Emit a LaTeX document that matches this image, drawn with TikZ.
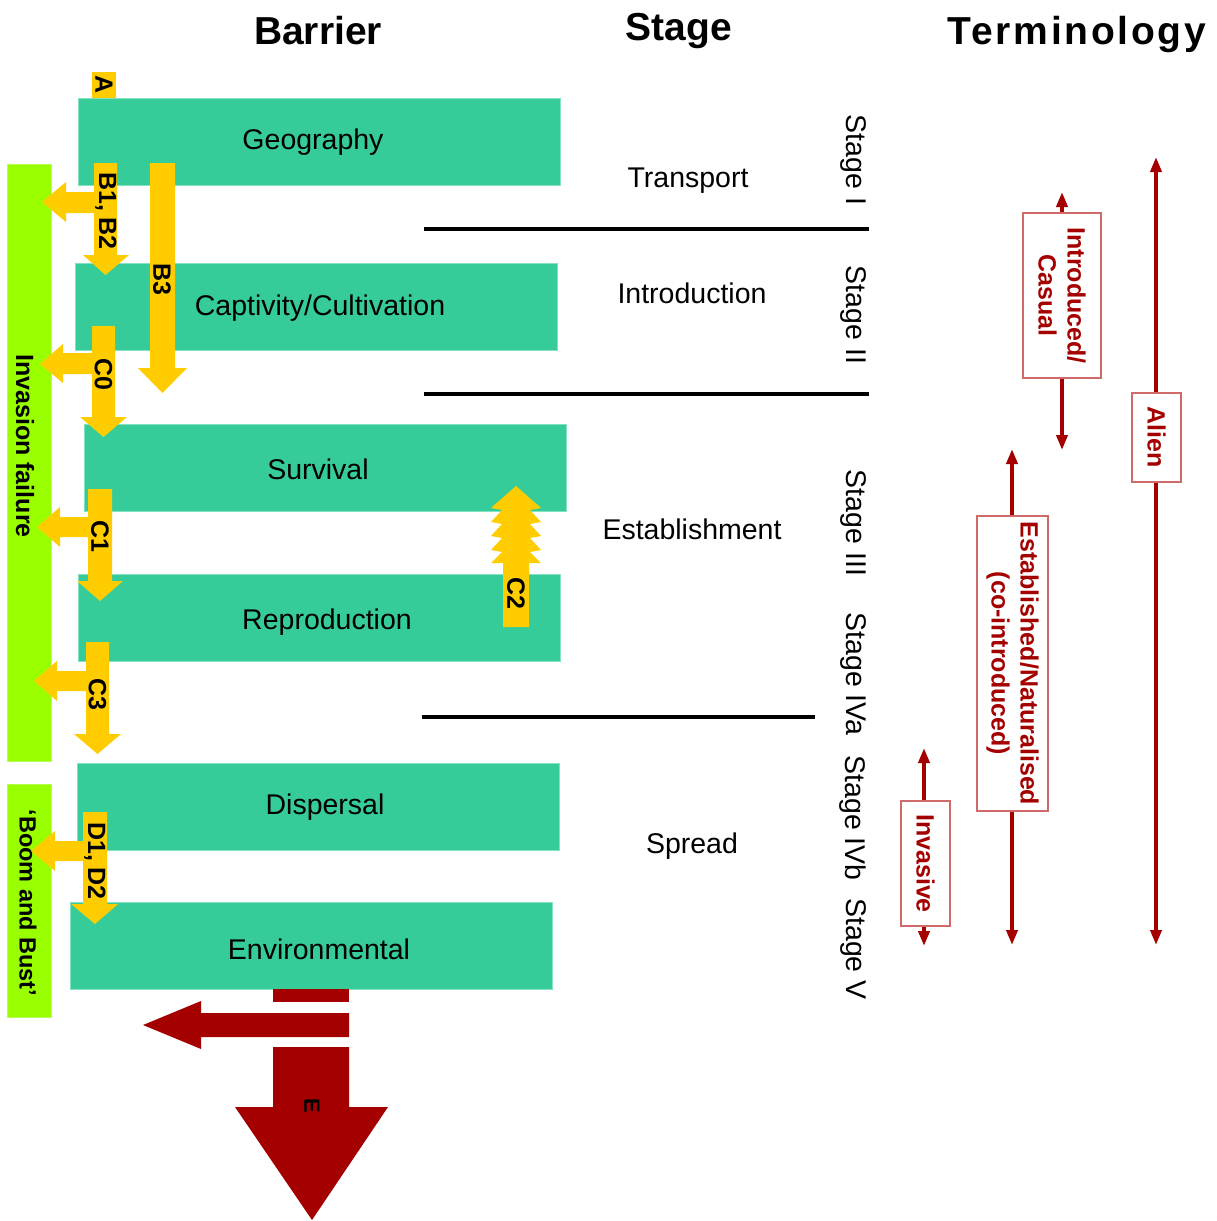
\documentclass[tikz,border=0pt]{standalone}
\usepackage{fontspec}
\setmainfont{Liberation Sans}
\usetikzlibrary{arrows.meta}
\definecolor{tealbox}{HTML}{35CC99}
\definecolor{limebar}{HTML}{99FF00}
\definecolor{yel}{HTML}{FFCC00}
\definecolor{dred}{HTML}{A50000}
\definecolor{bordred}{HTML}{D06A6A}
\begin{document}
\begin{tikzpicture}[x=1pt,y=-1pt,
  barrierbox/.style={fill=tealbox, draw=tealbox!60!white, line width=0.8pt, minimum width=482pt, minimum height=87pt, inner sep=0pt},
  boxtext/.style={font=\fontsize{28.5}{30}\selectfont, inner sep=0pt},
  stagetext/.style={font=\fontsize{28.5}{30}\selectfont, inner sep=0pt},
  stagerot/.style={font=\fontsize{28.5}{30}\selectfont, inner sep=0pt, rotate=-90},
  heading/.style={font=\bfseries\fontsize{39}{39}\selectfont, inner sep=0pt},
  limebox/.style={fill=limebar, draw=limebar!70!white, line width=0.8pt, rotate=-90, inner sep=0pt, minimum height=44pt},
  bartext/.style={font=\bfseries\fontsize{25}{25}\selectfont, rotate=-90, inner sep=0pt},
  ylab/.style={font=\bfseries\fontsize{25}{25}\selectfont, rotate=-90, inner sep=0pt},
  sepline/.style={line width=4pt, draw=black},
  termline/.style={draw=dred, line width=3.8pt, {Triangle[width=11pt,length=15pt]}-{Triangle[width=11pt,length=15pt]}},
  termbox/.style={draw=bordred, fill=white, line width=1.5pt, rotate=-90, text=dred, align=center, inner sep=0pt, font=\bfseries\fontsize{25}{29}\selectfont}
]
\useasboundingbox[fill=white] (0,0) rectangle (1217,1221);

% headings
\node[heading] (hbar) at (318,31) {Barrier};
\node[heading] (hstage) at (679,31) {Stage};
\node[heading] (hterm) at (1077,34) {\addfontfeature{LetterSpace=7}Terminology};

% barrier boxes
\node[barrierbox] (geo) at (319,142) {};
\node[barrierbox] (capt) at (316.5,306.5) {};
\node[barrierbox] (surv) at (325.5,467.5) {};
\node[barrierbox] (repr) at (319.5,617.5) {};
\node[barrierbox] (disp) at (318.5,806.5) {};
\node[barrierbox] (envi) at (311.5,945.5) {};
\node[boxtext] (geol) at (313,142) {Geography};
\node[boxtext] (captl) at (320,308) {Captivity/Cultivation};
\node[boxtext] (survl) at (318,469) {Survival};
\node[boxtext] (reprl) at (327,622) {Reproduction};
\node[boxtext] (displ) at (325,807) {Dispersal};
\node[boxtext] (envil) at (319,949) {Environmental};

% lime bars
\node[limebox, minimum width=597pt] (fail) at (29,462.5) {};
\node[bartext] (faill) at (25,446) {Invasion failure};
\node[limebox, minimum width=233pt] (boom) at (29,900.5) {};
\node[bartext, font=\bfseries\fontsize{23.5}{23.5}\selectfont] (booml) at (28,903) {‘Boom and Bust’};

% yellow arrows
\fill[yel] (92,72) rectangle (116,98);
\node[ylab] (la) at (104,85) {A};
% B1, B2
\fill[yel] (94,163) -- (117,163) -- (117,255) -- (129,255) -- (105.5,275) -- (83,255) -- (94,255) -- cycle;
\fill[yel] (95,192) -- (66,192) -- (66,182) -- (42,202) -- (66,222) -- (66,213) -- (95,213) -- cycle;
\node[ylab] (lb12) at (106,211) {B1, B2};
% B3
\fill[yel] (150,163) -- (175,163) -- (175,368) -- (187,368) -- (162.5,393) -- (138,368) -- (150,368) -- cycle;
\node[ylab] (lb3) at (162,279) {B3};
% C0
\fill[yel] (92,326) -- (115,326) -- (115,417) -- (127,417) -- (103.5,437) -- (80,417) -- (92,417) -- cycle;
\fill[yel] (93,353) -- (63,353) -- (63,344) -- (40,364) -- (63,383) -- (63,374) -- (93,374) -- cycle;
\node[ylab] (lc0) at (103.5,374) {C0};
% C1
\fill[yel] (88,489) -- (112,489) -- (112,581) -- (123,581) -- (100,601) -- (77,581) -- (88,581) -- cycle;
\fill[yel] (89,517) -- (60,517) -- (60,507) -- (37,527) -- (60,547) -- (60,537) -- (89,537) -- cycle;
\node[ylab] (lc1) at (100,536) {C1};
% C3
\fill[yel] (86,642) -- (109,642) -- (109,734) -- (121,734) -- (97.5,754) -- (74,734) -- (86,734) -- cycle;
\fill[yel] (87,671) -- (57,671) -- (57,661) -- (34,681) -- (57,701) -- (57,691) -- (87,691) -- cycle;
\node[ylab] (lc3) at (97.5,694) {C3};
% D1, D2
\fill[yel] (83,812) -- (107,812) -- (107,904) -- (118,904) -- (95,924) -- (71,904) -- (83,904) -- cycle;
\fill[yel] (84,841) -- (55,841) -- (55,831) -- (31,851) -- (55,871) -- (55,861) -- (84,861) -- cycle;
\node[ylab] (ld12) at (95,861) {D1, D2};
% C2 (serrated, upward)
\fill[yel] (516,486) -- (541,508) -- (530,510) -- (541,522) -- (530,524) -- (541,536) -- (530,538) -- (541,550) -- (530,552) -- (541,563)
  -- (529,563) -- (529,627) -- (503,627) -- (503,563)
  -- (491,563) -- (502,552) -- (491,550) -- (502,538) -- (491,536) -- (502,524) -- (491,522) -- (502,510) -- (491,508) -- cycle;
\node[ylab] (lc2) at (516,593) {C2};

% E arrow
\fill[dred] (273,989) rectangle (349,1002);
\fill[dred] (349,1013) -- (201,1013) -- (201,1001) -- (143,1025) -- (201,1049) -- (201,1037) -- (349,1037) -- cycle;
\fill[dred] (273,1047) -- (349,1047) -- (349,1107) -- (388,1107) -- (312,1220) -- (235,1107) -- (273,1107) -- cycle;
\node[ylab, font=\bfseries\fontsize{22}{22}\selectfont] (le) at (312,1106) {E};

% separator lines
\coordinate (s1a) at (424,229); \coordinate (s1b) at (869,229);
\coordinate (s2a) at (424,394); \coordinate (s2b) at (869,394);
\coordinate (s3a) at (422,717); \coordinate (s3b) at (815,717);
\draw[sepline] (s1a) -- (s1b);
\draw[sepline] (s2a) -- (s2b);
\draw[sepline] (s3a) -- (s3b);

% stage names
\node[stagetext] (transport) at (688,181) {Transport};
\node[stagetext] (intro) at (692,293) {Introduction};
\node[stagetext] (estab) at (692,529) {Establishment};
\node[stagetext] (spread) at (692,846) {Spread};
\node[stagerot] (st1) at (853,160) {Stage I};
\node[stagerot] (st2) at (853,315) {Stage II};
\node[stagerot] (st3) at (853,523) {Stage III};
\node[stagerot] (st4a) at (853,674) {Stage IVa};
\node[stagerot] (st4b) at (853,818) {Stage IVb};
\node[stagerot] (st5) at (853,949) {Stage V};

% terminology
\coordinate (ita) at (1062,192); \coordinate (itb) at (1062,450);
\coordinate (ala) at (1156,157); \coordinate (alb) at (1156,945);
\coordinate (esa) at (1012,449); \coordinate (esb) at (1012,945);
\coordinate (iva) at (924,748); \coordinate (ivb) at (924,946);
\draw[termline] (ita) -- (itb);
\draw[termline] (ala) -- (alb);
\draw[termline] (esa) -- (esb);
\draw[termline] (iva) -- (ivb);
\node[termbox, minimum width=165pt, minimum height=78pt] (intbox) at (1062,295.5) {Introduced/\\Casual};
\node[termbox, minimum width=89pt, minimum height=49pt] (albox) at (1156.5,437.5) {Alien};
\node[termbox, minimum width=295pt, minimum height=71pt] (esbox) at (1012.5,663.5) {Established/Naturalised\\(co-introduced)};
\node[termbox, minimum width=125pt, minimum height=49pt] (ivbox) at (925.5,863.5) {Invasive};
\end{tikzpicture}
\end{document}
